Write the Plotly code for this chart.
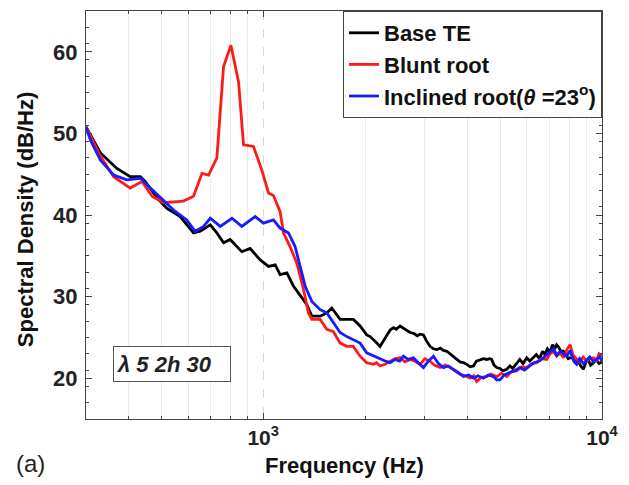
import plotly.graph_objects as go

# ---------------- data ----------------
base_f = [300, 331, 370, 405, 434, 449, 486, 520, 569, 623, 652, 698, 730, 764, 799, 865, 915, 980,
          1037, 1085, 1122, 1175, 1228, 1286, 1346, 1392, 1473, 1541, 1594, 1687, 1846, 1932,
          2021, 2068, 2120, 2164, 2212, 2270, 2330, 2370, 2424, 2470, 2535, 2600, 2650, 2714, 2780,
          2850, 2905, 2972, 3030, 3108, 3180, 3256, 3330, 3405, 3484, 3560, 3645, 3729, 3810, 3900,
          3991, 4080, 4175, 4260, 4365, 4470, 4570, 4660, 4723, 4800, 4890, 5000, 5100, 5235, 5350,
          5450, 5600, 5718, 5850, 5995, 6120, 6262, 6400, 6537, 6680, 6777, 6900, 7016, 7150, 7250,
          7348, 7450, 7560, 7688, 7800, 7950, 8050, 8226, 8350, 8500, 8650, 8810, 8950, 9100, 9250,
          9440, 9600, 9800, 10000]
base_db = [50.8, 47.6, 45.7, 44.7, 44.7, 44.1, 42.1, 40.8, 39.8, 37.8, 38.0, 38.8, 37.8, 36.6, 37.0,
           35.5, 35.9, 34.5, 33.7, 33.9, 32.7, 32.9, 31.3, 30.2, 29.0, 27.6, 27.6, 28.0, 28.6, 27.2,
           27.2, 26.4, 25.3, 25.1, 24.6, 24.3, 23.9, 24.6, 25.4, 25.9, 26.2, 26.0, 26.4, 26.1, 25.9,
           25.6, 25.5, 25.2, 25.4, 25.3, 24.6, 23.9, 23.6, 23.5, 23.7, 23.4, 23.3, 23.0, 22.6, 22.3,
           22.0, 21.9, 21.7, 21.4, 21.5, 22.1, 22.3, 22.4, 22.3, 22.4, 22.3, 21.6, 21.3, 21.2, 20.9,
           21.1, 21.5, 21.2, 21.8, 22.3, 21.8, 22.5, 22.1, 22.5, 22.9, 22.4, 23.3, 22.9, 23.6, 23.2,
           24.1, 23.6, 24.1, 23.8, 23.3, 23.3, 22.9, 22.4, 22.5, 22.5, 21.8, 22.2, 21.5, 21.1, 21.9,
           22.3, 21.6, 21.9, 22.3, 21.8, 22.0]

blunt_f = [300, 331, 362, 405, 439, 470, 508, 582, 623, 660, 690, 730, 764, 803, 846, 875, 936, 991,
           1037, 1072, 1122, 1148, 1201, 1257, 1315, 1360, 1392, 1473, 1541, 1612, 1687, 1765, 1846,
           1932, 2021, 2068, 2114, 2160, 2212, 2290, 2370, 2450, 2535, 2620, 2714, 2800, 2905, 3000,
           3108, 3200, 3328, 3450, 3562, 3680, 3811, 3950, 4081, 4180, 4270, 4400, 4570, 4700, 4890,
           5050, 5235, 5400, 5604, 5800, 5995, 6200, 6418, 6600, 6867, 7000, 7186, 7350, 7523, 7700,
           7900, 8050, 8200, 8424, 8600, 8800, 9020, 9200, 9440, 9600, 9800, 10000]
blunt_db = [50.8, 47.2, 44.7, 43.3, 44.1, 42.3, 41.5, 41.7, 42.3, 45.1, 44.9, 47.0, 58.2, 60.8, 56.3,
            48.6, 48.4, 45.5, 42.7, 42.4, 40.4, 37.8, 36.1, 34.1, 30.9, 28.0, 27.2, 27.2, 26.0, 25.7,
            24.3, 23.9, 23.9, 22.7, 21.9, 21.8, 21.7, 21.9, 21.5, 21.7, 22.1, 22.4, 22.5, 22.0, 22.3,
            22.1, 21.7, 22.4, 22.1, 21.6, 21.3, 21.6, 21.3, 20.9, 20.5, 20.3, 20.0, 20.3, 19.6, 20.1,
            20.2, 20.5, 20.2, 20.6, 20.2, 20.8, 20.9, 21.4, 21.3, 21.8, 21.9, 22.4, 22.3, 22.9, 23.3,
            22.7, 23.1, 22.5, 23.6, 24.1, 22.9, 22.3, 22.0, 22.6, 22.1, 22.4, 22.5, 22.0, 23.0, 22.7]

incl_f = [300, 309, 331, 362, 396, 434, 454, 497, 544, 595, 630, 667, 698, 747, 809, 865, 947, 1002,
          1072, 1122, 1188, 1243, 1286, 1330, 1392, 1473, 1541, 1612, 1687, 1765, 1846, 1932, 2021,
          2100, 2164, 2212, 2290, 2370, 2450, 2530, 2593, 2680, 2777, 2870, 2972, 3060, 3181, 3290,
          3405, 3520, 3645, 3760, 3900, 4040, 4175, 4300, 4467, 4620, 4776, 4890, 5000, 5150, 5340,
          5500, 5718, 5900, 6122, 6300, 6537, 6750, 7016, 7200, 7350, 7523, 7700, 7867, 8050, 8250,
          8424, 8600, 8810, 9020, 9200, 9440, 9665, 9850, 10000]
incl_db = [50.8, 49.2, 46.7, 44.9, 44.3, 44.5, 43.7, 42.1, 40.6, 39.4, 38.0, 38.6, 39.6, 38.6, 39.6,
           38.6, 39.8, 39.0, 39.4, 38.4, 37.8, 36.1, 33.7, 31.3, 29.4, 28.4, 28.0, 26.8, 25.6, 25.1,
           24.7, 24.3, 23.1, 22.8, 22.5, 22.3, 22.1, 21.9, 22.3, 22.1, 22.7, 22.3, 22.5, 21.9, 21.3,
           22.0, 22.7, 21.8, 21.3, 21.5, 21.1, 20.7, 20.2, 20.4, 20.0, 20.3, 20.0, 20.4, 20.2, 19.8,
           19.8, 20.4, 20.7, 20.9, 21.3, 21.0, 21.5, 21.9, 22.1, 22.6, 23.1, 23.6, 22.8, 23.3, 23.0,
           22.7, 23.4, 22.1, 21.7, 22.4, 21.8, 22.3, 22.6, 22.0, 22.3, 22.6, 22.1]

series_names = ["Base TE", "Blunt root", "Inclined root(<i>θ</i> =23<sup>o</sup>)"]
series_colors = ["#000000", "#ff1a1a", "#1a1aff"]

x_tickvals = [1000, 10000]
x_ticktext = ["10<sup>3</sup>", "10<sup>4</sup>"]
x_minor = [400, 500, 600, 700, 800, 900, 2000, 3000, 4000, 5000, 6000, 7000, 8000, 9000]
y_tickvals = [20, 30, 40, 50, 60]

FONT = "Liberation Sans, Arial, sans-serif"

fig = go.Figure()
for i, (fx, fy) in enumerate([(base_f, base_db), (blunt_f, blunt_db), (incl_f, incl_db)]):
    fig.add_trace(go.Scatter(
        x=fx, y=fy, mode="lines", name=series_names[i],
        line=dict(color=series_colors[i], width=2.8),
        legendgroup=f"g{i}",
    ))

fig.update_layout(
    width=629, height=485,
    margin=dict(l=86, r=27, t=11, b=66),
    paper_bgcolor="white", plot_bgcolor="white",
    font=dict(family=FONT, size=20, color="#222"),
    showlegend=True,
    legend=dict(
        x=1, y=1, xanchor="right", yanchor="top",
        bgcolor="white", bordercolor="#444", borderwidth=1,
        font=dict(family=FONT, size=22, color="#111", weight="bold"),
        traceorder="grouped", tracegroupgap=0,
        itemwidth=30,
    ),
    xaxis=dict(
        type="log", range=[2.4771, 4],
        tickvals=x_tickvals, ticktext=x_ticktext,
        ticks="inside", ticklen=6, tickcolor="#444",
        showline=True, linecolor="#444", linewidth=1, mirror="ticks",
        showgrid=True, gridcolor="#d8d8d8", griddash="dash", gridwidth=1,
        tickfont=dict(family=FONT, size=21, color="#222", weight="bold"),
        minor=dict(tickvals=x_minor, ticks="inside", ticklen=3, tickcolor="#444",
                   showgrid=True, gridcolor="#ebebeb", griddash="solid", gridwidth=1),
        zeroline=False,
    ),
    yaxis=dict(
        range=[15, 65],
        tickvals=y_tickvals,
        ticks="inside", ticklen=6, tickcolor="#444",
        showline=True, linecolor="#444", linewidth=1, mirror="ticks",
        showgrid=False, zeroline=False,
        tickfont=dict(family=FONT, size=22, color="#222", weight="bold"),
        minor=dict(dtick=2, tick0=15, ticks="inside", ticklen=3, tickcolor="#444", showgrid=False),
        ticklabelstandoff=3,
    ),
    annotations=[
        dict(text="Frequency (Hz)", xref="paper", yref="paper", x=0.5, y=-0.113,
             xanchor="center", yanchor="middle", showarrow=False,
             font=dict(family=FONT, size=22, color="#111", weight="bold")),
        dict(text="Spectral Density (dB/Hz)", xref="paper", yref="paper", x=-0.118, y=0.49,
             xanchor="center", yanchor="middle", textangle=-90, showarrow=False,
             font=dict(family=FONT, size=22, color="#111", weight="bold")),
        dict(text="(a)", xref="paper", yref="paper", x=-0.107, y=-0.108,
             xanchor="center", yanchor="middle", showarrow=False,
             font=dict(family=FONT, size=24, color="#222")),
        dict(text="λ 5 2h 30", xref="paper", yref="paper", x=0.1676, y=0.1336,
             xanchor="center", yanchor="middle", showarrow=False,
             width=110, height=28, align="left",
             bordercolor="#555", borderwidth=1, borderpad=3, bgcolor="white",
             font=dict(family=FONT, size=22, color="#222", weight="bold", style="italic")),
    ],
)

fig.write_html("out.html")
